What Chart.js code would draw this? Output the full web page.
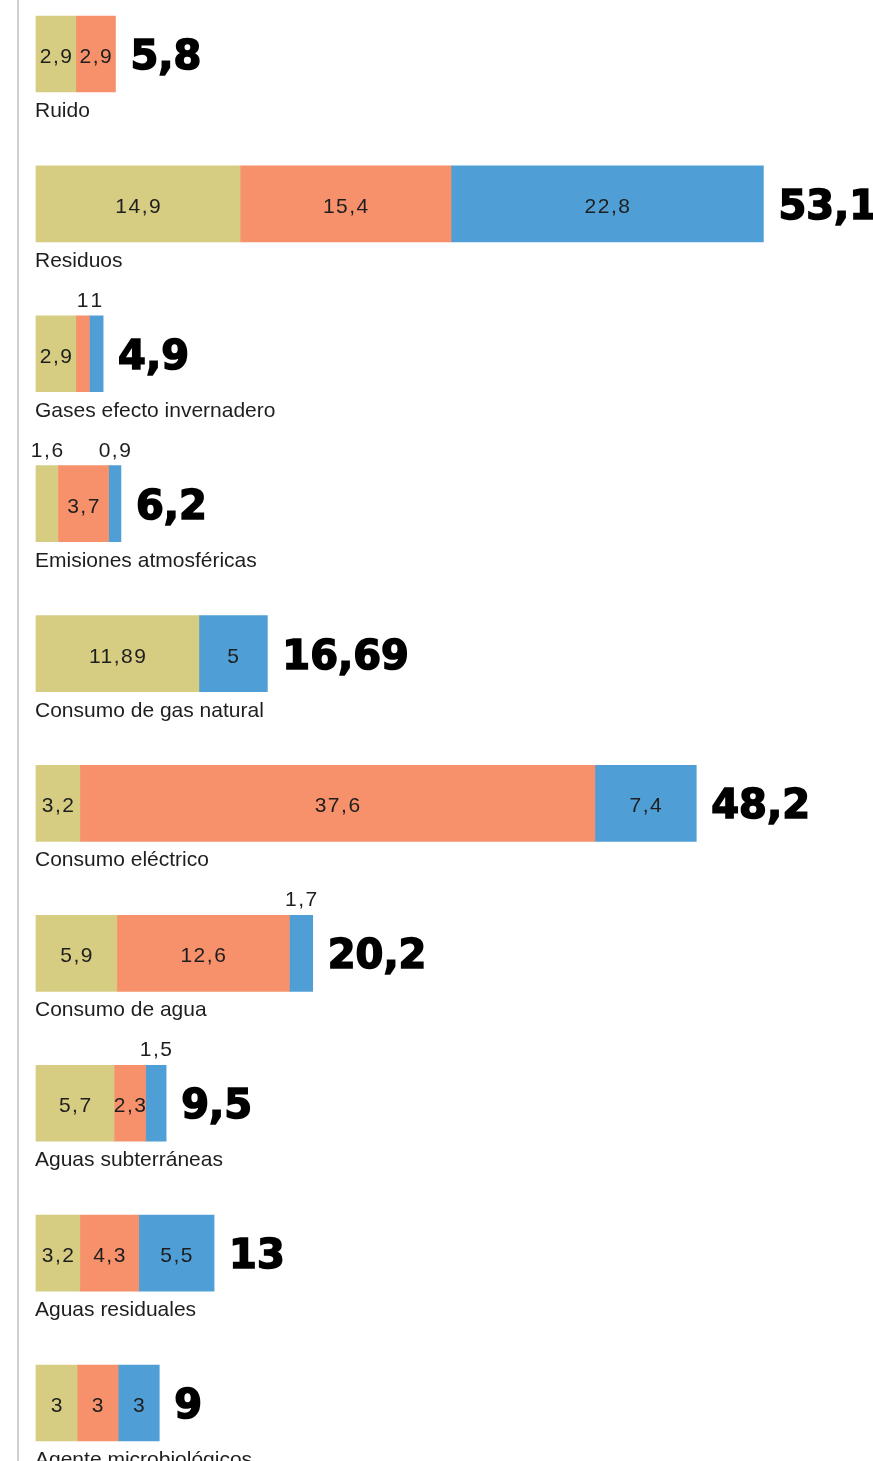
<!DOCTYPE html>
<html lang="es">
<head>
<meta charset="utf-8">
<title>Impactos ambientales</title>
<script src="https://cdn.jsdelivr.net/npm/chart.js@4/dist/chart.umd.min.js"></script>
<style>
  html, body { margin: 0; padding: 0; background: #ffffff; }
  #wrap { width: 873px; height: 1461px; position: relative; }
</style>
</head>
<body>
<div id="wrap"><canvas id="grafico" width="873" height="1461"></canvas></div>
<script>
// Categorías y valores de cada tramo
const categorias = [
  'Ruido',
  'Residuos',
  'Gases efecto invernadero',
  'Emisiones atmosféricas',
  'Consumo de gas natural',
  'Consumo eléctrico',
  'Consumo de agua',
  'Aguas subterráneas',
  'Aguas residuales',
  'Agente microbiológicos'
];
const tramoAmarillo = [2.9, 14.9, 2.9, 1.6, 11.89, 3.2, 5.9, 5.7, 3.2, 3];
const tramoNaranja  = [2.9, 15.4, 1,   3.7, null,  37.6, 12.6, 2.3, 4.3, 3];
const tramoAzul     = [null, 22.8, 1,  0.9, 5,     7.4, 1.7,  1.5, 5.5, 3];
const totales = ['5,8', '53,1', '4,9', '6,2', '16,69', '48,2', '20,2', '9,5', '13', '9'];

const COLORES = ['#d6cd82', '#f6916b', '#4f9fd6'];
const fmt = v => String(v).replace('.', ',');

const etiquetas = {
  id: 'etiquetas',
  beforeDraw(chart) {
    const ctx = chart.ctx;
    ctx.save();
    ctx.fillStyle = '#ffffff';
    ctx.fillRect(0, 0, chart.width, chart.height);
    ctx.strokeStyle = '#d0d0d0';
    ctx.lineWidth = 2;
    ctx.beginPath();
    ctx.moveTo(18, 0);
    ctx.lineTo(18, chart.height);
    ctx.stroke();
    ctx.restore();
  },
  afterDatasetsDraw(chart) {
    const ctx = chart.ctx;
    const left = chart.chartArea.left;
    ctx.save();
    categorias.forEach((cat, i) => {
      let fin = left, yc = null, alto = 0;
      chart.data.datasets.forEach((ds, d) => {
        const v = ds.data[i];
        if (v === null || v === undefined) return;
        const el = chart.getDatasetMeta(d).data[i];
        const p = el.getProps(['x', 'base', 'y', 'height'], true);
        yc = p.y; alto = p.height;
        fin = Math.max(fin, p.x);
        const cx = (p.x + p.base) / 2;
        ctx.fillStyle = '#1e1e1e';
        ctx.font = '21px "Liberation Sans"';
        ctx.letterSpacing = '1.5px';
        ctx.textAlign = 'center';
        ctx.textBaseline = 'alphabetic';
        if (v >= 2) {
          ctx.fillText(fmt(v), cx + 0.75, p.y + 9);
        } else {
          ctx.fillText(fmt(v), cx + 0.75, p.y - p.height / 2 - 9);
        }
      });
      ctx.letterSpacing = '0px';
      // total al final de la barra
      ctx.fillStyle = '#000000';
      ctx.strokeStyle = '#000000';
      ctx.lineWidth = 1.6;
      ctx.font = 'bold 40px "DejaVu Sans"';
      ctx.textAlign = 'left';
      ctx.textBaseline = 'alphabetic';
      ctx.fillText(totales[i], fin + 15, yc + 15);
      ctx.strokeText(totales[i], fin + 15, yc + 15);
      // nombre de la categoría debajo de la barra
      ctx.fillStyle = '#1e1e1e';
      ctx.font = '21px "Liberation Sans"';
      ctx.fillText(cat, left - 1, yc + alto / 2 + 25);
    });
    ctx.restore();
  }
};

new Chart(document.getElementById('grafico'), {
  type: 'bar',
  data: {
    labels: categorias,
    datasets: [
      { data: tramoAmarillo, backgroundColor: COLORES[0] },
      { data: tramoNaranja, backgroundColor: COLORES[1] },
      { data: tramoAzul, backgroundColor: COLORES[2] }
    ].map(ds => Object.assign(ds, { barThickness: 76, borderWidth: 0, clip: false }))
  },
  options: {
    indexAxis: 'y',
    responsive: false,
    animation: false,
    devicePixelRatio: 1,
    layout: { padding: { left: 36, right: 0, top: 54, bottom: 58 } },
    scales: {
      x: { stacked: true, min: 0, max: 61.1, display: false },
      y: { stacked: true, offset: false, display: false }
    },
    plugins: {
      legend: { display: false },
      tooltip: { enabled: false }
    }
  },
  plugins: [etiquetas]
});
</script>
</body>
</html>
